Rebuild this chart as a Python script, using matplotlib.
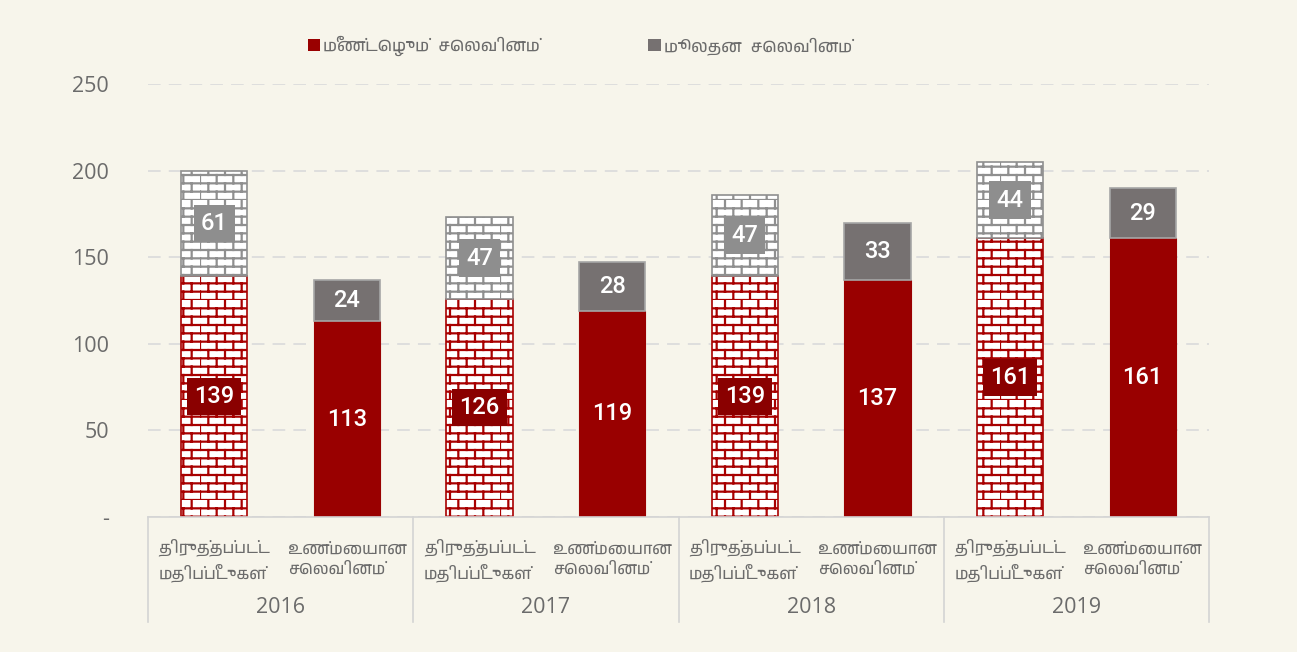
import numpy as np
import matplotlib
matplotlib.use('Agg')
import matplotlib.pyplot as plt
import matplotlib.hatch as mhatch
from matplotlib.path import Path
from matplotlib.patches import Patch
from matplotlib import font_manager
from matplotlib.ft2font import FT2Font

years = ['2016', '2017', '2018', '2019']
cat_labels = ['திருத்தப்பட்ட\nமதிப்பீடுகள்', 'உண்மையான\nசெலவினம்']
legend_labels = ['மீண்டெழும்  செலவினம்', 'மூலதன  செலவினம்']
est_recurrent = [139, 126, 139, 161]
est_capital = [61, 47, 47, 44]
act_recurrent = [113, 119, 137, 161]
act_capital = [24, 28, 33, 29]

bg = '#f7f5eb'
red = '#990000'
red_box = '#8a0000'
grey = '#767171'
grey_box = '#8e8e8e'
txt = '#6b6b6b'


# brick hatch: 12 rows x 6 bricks per 1-inch tile
class BrickHatch(mhatch.HatchPatternBase):
    rows, cols = 12, 6

    def __init__(self, hatch, density):
        self.num_vertices = (self.rows * 2 + self.rows * self.cols * 2) if hatch else 0

    def set_vertices_and_codes(self, vertices, codes):
        v = []
        for i in range(self.rows):
            y0, y1 = i / self.rows, (i + 1) / self.rows
            v += [(0.0, y0), (1.0, y0)]
            shift = 0.5 * (i % 2)
            for j in range(self.cols):
                x = (j + shift) / self.cols
                v += [(x, y0), (x, y1)]
        vertices[:] = np.array(v)
        codes[0::2] = Path.MOVETO
        codes[1::2] = Path.LINETO


mhatch._hatch_types = [BrickHatch]


def tamil_family():
    fonts = sorted(font_manager.fontManager.ttflist, key=lambda f: 'Tamil' not in f.name)
    for f in fonts:
        try:
            if 0x0B9A in FT2Font(f.fname).get_charmap():
                return f.name
        except Exception:
            pass
    return 'DejaVu Sans'


tam = [tamil_family(), 'DejaVu Sans']

plt.rcParams['hatch.linewidth'] = 1.6
plt.rcParams['font.family'] = ['Open Sans', 'DejaVu Sans']

fig = plt.figure(figsize=(12.97, 6.52), dpi=100, facecolor=bg)
ax = fig.add_axes([148 / 1297, 1 - 517 / 652, 1061 / 1297, 433 / 652])
ax.set_facecolor(bg)

n = len(years)
x_est = np.arange(n) * 2
x_act = x_est + 1
w = 0.5

ax.bar(x_est, est_recurrent, w, color='white', edgecolor='#a80000', hatch='+', linewidth=1.2)
ax.bar(x_est, est_capital, w, bottom=est_recurrent, color='white', edgecolor='#8f8f8f',
       hatch='+', linewidth=1.2)
ax.bar(x_act, act_recurrent, w, color=red, edgecolor=red, linewidth=0.8)
ax.bar(x_act, act_capital, w, bottom=act_recurrent, color=grey, edgecolor='#a6a6a6', linewidth=1.2)

num_font = dict(family='Roboto', fontsize=17, fontweight='medium', color='white',
                ha='center', va='center')
for i in range(n):
    ax.text(x_est[i], est_recurrent[i] / 2, str(est_recurrent[i]),
            bbox=dict(boxstyle='square,pad=0.3', fc=red_box, ec='none'), **num_font)
    ax.text(x_est[i], est_recurrent[i] + est_capital[i] / 2, str(est_capital[i]),
            bbox=dict(boxstyle='square,pad=0.3', fc=grey_box, ec='none'), **num_font)
    ax.text(x_act[i], act_recurrent[i] / 2, str(act_recurrent[i]), **num_font)
    ax.text(x_act[i], act_recurrent[i] + act_capital[i] / 2, str(act_capital[i]), **num_font)

ax.set_xlim(-0.5, 2 * n - 0.5)
ax.set_ylim(0, 250)
ax.set_yticks([0, 50, 100, 150, 200, 250])
ax.set_yticklabels(['-', '50', '100', '150', '200', '250'])
ax.tick_params(axis='y', length=0, pad=28, labelsize=15.5, labelcolor=txt)
ax.set_xticks([])
ax.grid(axis='y', color='#dcdcdc', linestyle=(0, (7, 4.5)), linewidth=1.3)
ax.set_axisbelow(True)
for s in ax.spines.values():
    s.set_visible(False)

# category axis: baseline, separators, labels
ax.axhline(0, color='#d4d4d4', linewidth=1.2, clip_on=False)
for b in np.arange(n + 1) * 2 - 0.5:
    ax.axvline(b, ymin=-0.2425, ymax=0, color='#d4d4d4', linewidth=1.2, clip_on=False)
tr = ax.get_xaxis_transform()
for i in range(n):
    for xx, lab in zip([x_est[i], x_act[i]], cat_labels):
        ax.text(xx, -0.099, lab, transform=tr, ha='center', va='center', multialignment='left',
                fontsize=11.5, color=txt, family=tam, linespacing=1.45)
    ax.text(x_est[i] + 0.5, -0.208, years[i], transform=tr, ha='center', va='center',
            fontsize=15.5, color=txt)

handles = [Patch(fc=red, ec='none'), Patch(fc=grey, ec='none')]
fig.legend(handles, legend_labels, loc='center', bbox_to_anchor=(580 / 1297, 1 - 46 / 652), ncol=2,
           frameon=False, handlelength=0.75, handleheight=0.75, handletextpad=0.2,
           columnspacing=6.5, prop=dict(family=tam, size=12), labelcolor=txt)

fig.savefig('out.png', dpi=100, facecolor=bg)
